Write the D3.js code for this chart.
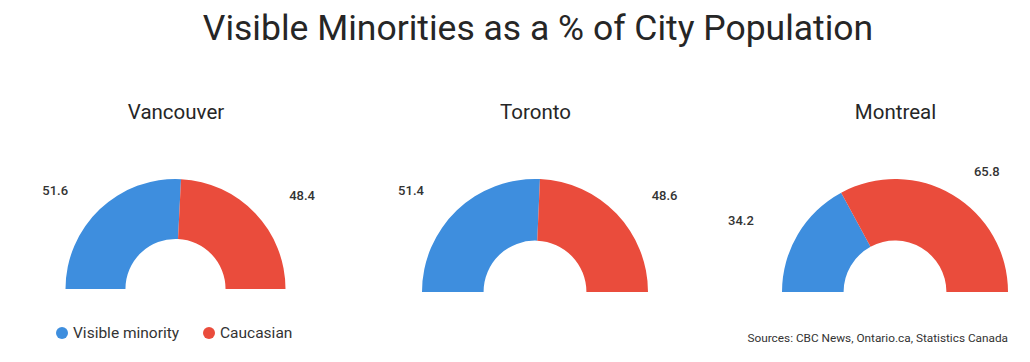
<!DOCTYPE html>
<html>
<head>
<meta charset="utf-8">
<script src="https://cdn.jsdelivr.net/npm/d3@7"></script>
<style>
  body { margin: 0; background: #fff; }
  svg { font-family: Roboto, "Noto Sans", sans-serif; }
</style>
</head>
<body>
<div id="vis"></div>
<script>
const width = 1030;
const height = 362;

// Data
const cities = ["Vancouver", "Toronto", "Montreal"];
const groups = ["Visible minority", "Caucasian"];
const visibleMinority = [51.6, 51.4, 34.2];
const caucasian = [48.4, 48.6, 65.8];
const sourceText = "Sources: CBC News, Ontario.ca, Statistics Canada";

// Panel layout
const panels = [
  { cx: 175.5, cy: 289, r: 110 },
  { cx: 535, cy: 292, r: 113 },
  { cx: 895, cy: 292, r: 113 }
];

const colorScale = d3.scaleOrdinal()
  .domain(groups)
  .range(["#3e8ede", "#ea4c3c"]);

const svg = d3.select("#vis")
  .append("svg")
  .attr("width", width)
  .attr("height", height);

// Title
svg.append("text")
  .attr("x", 538)
  .attr("y", 40)
  .attr("text-anchor", "middle")
  .attr("font-size", 35.5)
  .attr("fill", "#262626")
  .text("Visible Minorities as a % of City Population");

const pie = d3.pie()
  .value(d => d.value)
  .sort(null)
  .startAngle(-Math.PI / 2)
  .endAngle(Math.PI / 2);

cities.forEach((city, i) => {
  const p = panels[i];
  const values = [
    { group: groups[0], value: visibleMinority[i] },
    { group: groups[1], value: caucasian[i] }
  ];
  const arc = d3.arc().innerRadius(p.r * 0.455).outerRadius(p.r);

  const g = svg.append("g").attr("transform", `translate(${p.cx},${p.cy})`);

  svg.append("text")
    .attr("x", p.cx + 0.5)
    .attr("y", 118.5)
    .attr("text-anchor", "middle")
    .attr("font-size", 20.5)
    .attr("fill", "#262626")
    .text(city);

  const arcs = pie(values);

  g.selectAll("path")
    .data(arcs)
    .join("path")
    .attr("d", arc)
    .attr("fill", d => colorScale(d.data.group));

  // outside labels, pushed out along the slice's mid-angle
  const labelR = p.r * 1.24;
  g.selectAll("text.lbl")
    .data(arcs)
    .join("text")
    .attr("class", "lbl")
    .attr("x", d => Math.sin((d.startAngle + d.endAngle) / 2) * labelR * 1.28)
    .attr("y", d => -Math.cos((d.startAngle + d.endAngle) / 2) * labelR)
    .attr("dy", "0.35em")
    .attr("text-anchor", "middle")
    .attr("font-size", 13)
    .attr("font-weight", 500)
    .attr("fill", "#333")
    .text(d => d3.format(".1f")(d.data.value));
});

// Legend
const legend = svg.append("g").attr("transform", "translate(62,333)");
const legendX = [0, 147];
groups.forEach((grp, i) => {
  const lg = legend.append("g").attr("transform", `translate(${legendX[i]},0)`);
  lg.append("circle").attr("r", 6).attr("fill", colorScale(grp));
  lg.append("text")
    .attr("x", 11)
    .attr("dy", "0.35em")
    .attr("font-size", 15.5)
    .attr("fill", "#333")
    .text(grp);
});

// Sources
svg.append("text")
  .attr("x", 1008)
  .attr("y", 338)
  .attr("dy", "0.35em")
  .attr("text-anchor", "end")
  .attr("font-size", 11.8)
  .attr("fill", "#333")
  .text(sourceText);
</script>
</body>
</html>
